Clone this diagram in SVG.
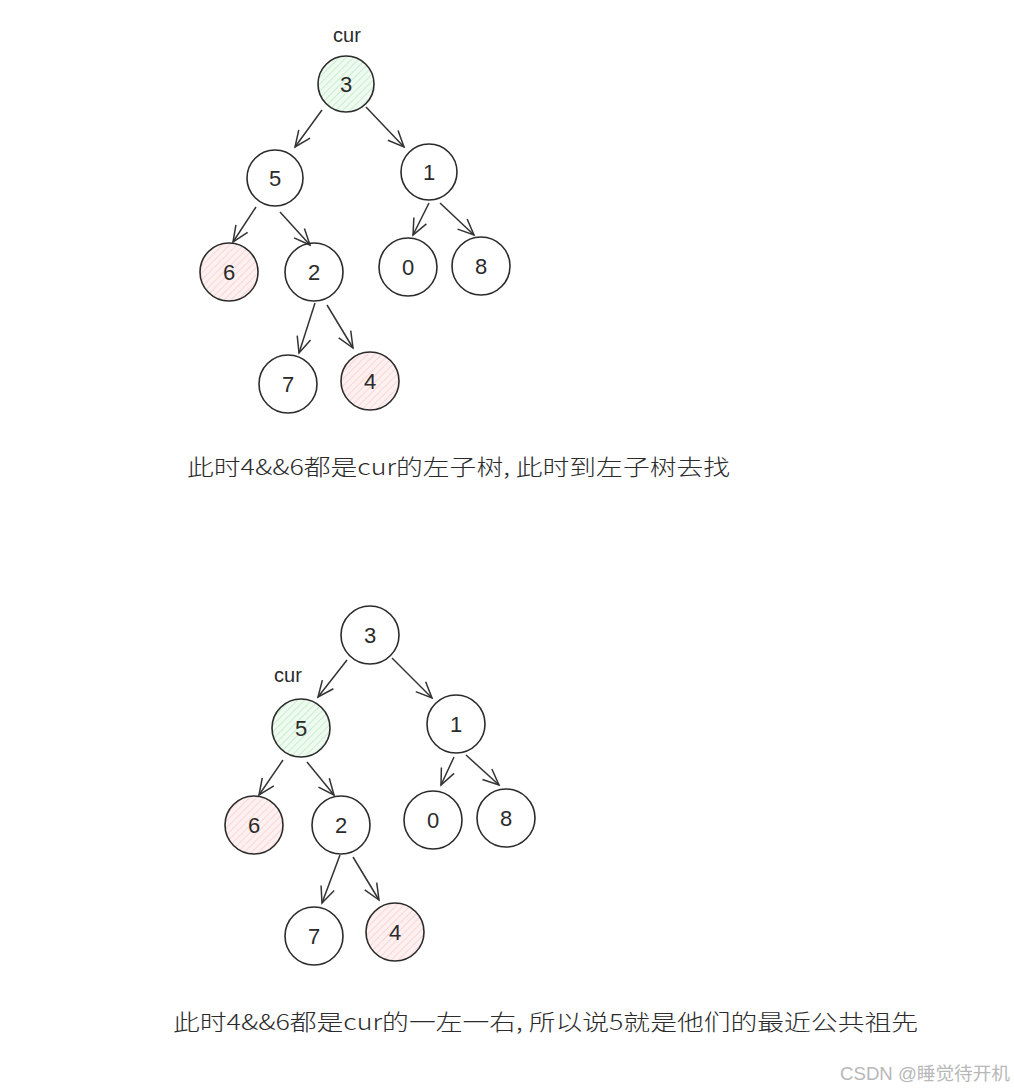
<svg xmlns="http://www.w3.org/2000/svg" width="1014" height="1091" viewBox="0 0 1014 1091">
<style>
.n{fill:none;stroke:#2b2b2b;stroke-width:1.6}
.g{fill:url(#hg);stroke:#2b2b2b;stroke-width:1.6}
.r{fill:url(#hr);stroke:#2b2b2b;stroke-width:1.6}
.t{font-family:"Liberation Sans","Noto Sans CJK SC",sans-serif;font-size:22px;fill:#2b2b2b;text-anchor:middle;dominant-baseline:central}
.c{font-family:"Liberation Sans",sans-serif;font-size:20px;fill:#2b2b2b;text-anchor:middle}
.e{stroke:#333;stroke-width:1.5;fill:none;marker-end:url(#ah)}
.cap{font-family:"Noto Sans CJK SC","Liberation Sans",sans-serif;font-size:22px;font-weight:300;fill:#2b2b2b}
.wm{font-family:"Liberation Sans","Noto Sans CJK SC",sans-serif;font-size:18px;fill:#b8b8b8}
</style>
<defs>
<pattern id="hg" width="5" height="5" patternUnits="userSpaceOnUse" patternTransform="rotate(45)">
<rect width="5" height="5" fill="#effaf0"/>
<line x1="0" y1="0" x2="0" y2="5" stroke="#c9efcf" stroke-width="2"/>
</pattern>
<pattern id="hr" width="5" height="5" patternUnits="userSpaceOnUse" patternTransform="rotate(45)">
<rect width="5" height="5" fill="#fdf0f0"/>
<line x1="0" y1="0" x2="0" y2="5" stroke="#fbd6d6" stroke-width="2"/>
</pattern>
<marker id="ah" viewBox="0 0 20 20" refX="18" refY="10" markerWidth="20" markerHeight="20" markerUnits="userSpaceOnUse" orient="auto">
<path d="M2 3 L18 10 L2 17" fill="none" stroke="#333" stroke-width="1.5"/>
</marker>
</defs>

<g id="connectors">
<line class="e" x1="322" y1="110" x2="295" y2="147"/>
<line class="e" x1="366" y1="107" x2="404" y2="147"/>
<line class="e" x1="256" y1="207" x2="233" y2="242"/>
<line class="e" x1="280" y1="212" x2="310" y2="245"/>
<line class="e" x1="429" y1="203" x2="413" y2="235"/>
<line class="e" x1="440" y1="203" x2="474" y2="235"/>
<line class="e" x1="315" y1="303" x2="299" y2="353"/>
<line class="e" x1="327" y1="305" x2="353" y2="348"/>

<line class="e" x1="347" y1="660" x2="318" y2="697"/>
<line class="e" x1="392" y1="658" x2="432" y2="698"/>
<line class="e" x1="283" y1="760" x2="259" y2="795"/>
<line class="e" x1="307" y1="762" x2="334" y2="795"/>
<line class="e" x1="454" y1="757" x2="441" y2="785"/>
<line class="e" x1="466" y1="755" x2="499" y2="785"/>
<line class="e" x1="340" y1="855" x2="322" y2="903"/>
<line class="e" x1="353" y1="857" x2="379" y2="900"/>
</g>

<text class="c" x="347" y="42">cur</text>
<g id="t1-n3"><circle class="g" cx="346" cy="84" r="28"/><text class="t" x="346" y="84">3</text></g>
<g id="t1-n5"><circle class="n" cx="275" cy="178" r="28"/><text class="t" x="275" y="178">5</text></g>
<g id="t1-n1"><circle class="n" cx="429" cy="172" r="28"/><text class="t" x="429" y="172">1</text></g>
<g id="t1-n6"><circle class="r" cx="229" cy="272" r="29"/><text class="t" x="229" y="272">6</text></g>
<g id="t1-n2"><circle class="n" cx="314" cy="272" r="29"/><text class="t" x="314" y="272">2</text></g>
<g id="t1-n0"><circle class="n" cx="408" cy="267" r="29"/><text class="t" x="408" y="267">0</text></g>
<g id="t1-n8"><circle class="n" cx="481" cy="266" r="29"/><text class="t" x="481" y="266">8</text></g>
<g id="t1-n7"><circle class="n" cx="288" cy="384" r="29"/><text class="t" x="288" y="384">7</text></g>
<g id="t1-n4"><circle class="r" cx="370" cy="381" r="29"/><text class="t" x="370" y="381">4</text></g>

<text class="cap" x="187" y="475" textLength="543" lengthAdjust="spacingAndGlyphs">此时4&amp;&amp;6都是cur的左子树, 此时到左子树去找</text>

<g id="t2-n3"><circle class="n" cx="370" cy="635" r="29"/><text class="t" x="370" y="635">3</text></g>
<text class="c" x="288" y="682">cur</text>
<g id="t2-n5"><circle class="g" cx="301" cy="728" r="29"/><text class="t" x="301" y="728">5</text></g>
<g id="t2-n1"><circle class="n" cx="456" cy="724" r="29"/><text class="t" x="456" y="724">1</text></g>
<g id="t2-n6"><circle class="r" cx="254" cy="825" r="29"/><text class="t" x="254" y="825">6</text></g>
<g id="t2-n2"><circle class="n" cx="341" cy="825" r="29"/><text class="t" x="341" y="825">2</text></g>
<g id="t2-n0"><circle class="n" cx="433" cy="820" r="29"/><text class="t" x="433" y="820">0</text></g>
<g id="t2-n8"><circle class="n" cx="506" cy="818" r="29"/><text class="t" x="506" y="818">8</text></g>
<g id="t2-n7"><circle class="n" cx="314" cy="936" r="29"/><text class="t" x="314" y="936">7</text></g>
<g id="t2-n4"><circle class="r" cx="395" cy="932" r="29"/><text class="t" x="395" y="932">4</text></g>

<text class="cap" x="173" y="1030" textLength="745" lengthAdjust="spacingAndGlyphs">此时4&amp;&amp;6都是cur的一左一右, 所以说5就是他们的最近公共祖先</text>

<text class="wm" x="840" y="1080" textLength="170" lengthAdjust="spacingAndGlyphs">CSDN @睡觉待开机</text>
</svg>
